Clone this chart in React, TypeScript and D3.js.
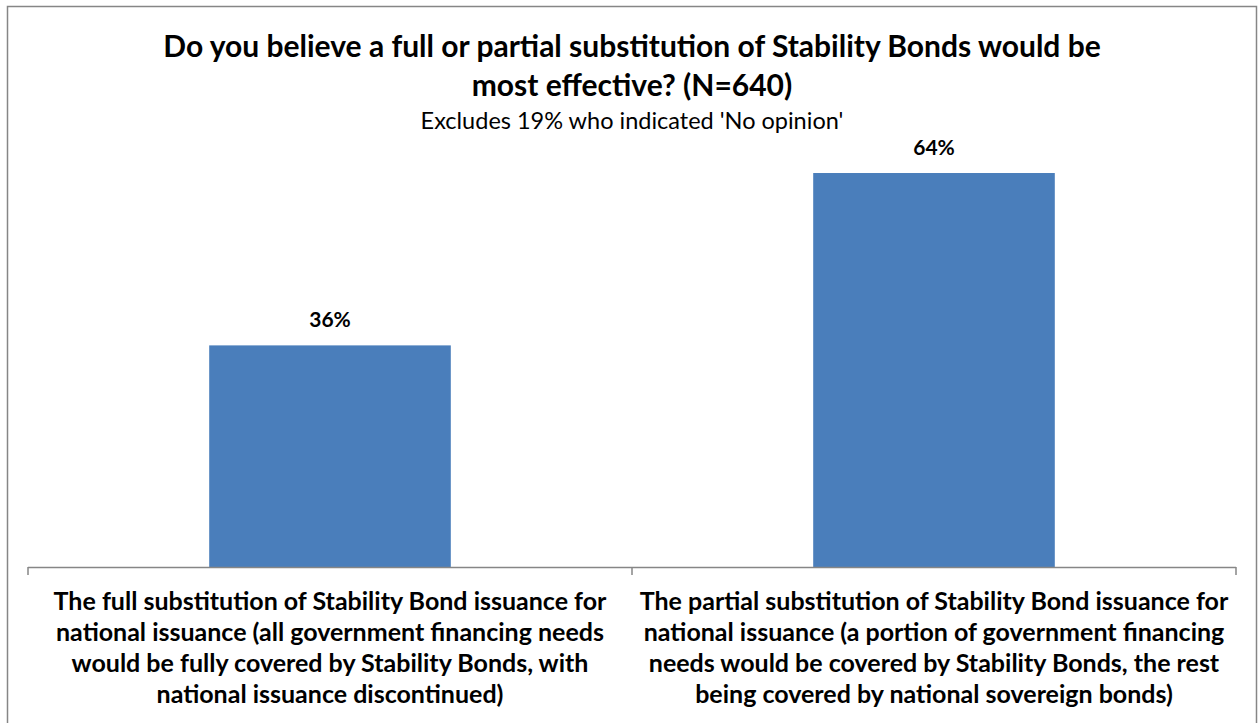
import React from "react";
import * as d3 from "d3";

const categories = ["full", "partial"];
const values = [36, 64];
const valueLabels = ["36%", "64%"];
const categoryLabels = [
  [
    "The full substitution of Stability Bond issuance for",
    "national issuance (all government financing needs",
    "would be fully covered by Stability Bonds, with",
    "national issuance discontinued)",
  ],
  [
    "The partial substitution of Stability Bond issuance for",
    "national issuance (a portion of government financing",
    "needs would be covered by Stability Bonds, the rest",
    "being covered by national sovereign bonds)",
  ],
];
const titleLines = [
  "Do you believe a full or partial substitution of Stability Bonds would be",
  "most effective? (N=640)",
];
const subtitle = "Excludes 19% who indicated 'No opinion'";

const W = 1259;
const H = 723;
const plotLeft = 28;
const plotRight = 1236;
const baseY = 567;
const pxPerPct = 6.156;
const font = "Lato, 'Open Sans', sans-serif";

export default function App() {
  const x = d3
    .scaleBand<string>()
    .domain(categories)
    .range([plotLeft, plotRight])
    .paddingInner(0.6)
    .paddingOuter(0.3);
  const y = d3
    .scaleLinear()
    .domain([0, 70])
    .range([baseY, baseY - 70 * pxPerPct]);
  const step = x.step();
  const tickXs = [plotLeft, plotLeft + step, plotLeft + 2 * step];

  return (
    <svg
      width={W}
      height={H}
      style={{ position: "absolute", left: 0, top: 0, fontFamily: font }}
    >
      <rect x={0} y={0} width={W} height={H} fill="#fff" />
      <path d={`M7.5,${H}V6.5H1256.5V${H}`} fill="none" stroke="#868686" strokeWidth={1.5} />
      {titleLines.map((t, i) => (
        <text
          key={i}
          x={632}
          y={57 + i * 39}
          textAnchor="middle"
          fontSize={30}
          fontWeight="bold"
          fill="#000"
        >
          {t}
        </text>
      ))}
      <text x={632} y={129} textAnchor="middle" fontSize={23.5} fill="#000">
        {subtitle}
      </text>
      {categories.map((c, i) => (
        <g key={c}>
          <rect
            x={x(c)}
            y={y(values[i])}
            width={x.bandwidth()}
            height={baseY - y(values[i])}
            fill="#4a7ebb"
          />
          <text
            x={(x(c) as number) + x.bandwidth() / 2}
            y={y(values[i]) - 18}
            textAnchor="middle"
            fontSize={21}
            fontWeight="bold"
            fill="#000"
          >
            {valueLabels[i]}
          </text>
          {categoryLabels[i].map((l, j) => (
            <text
              key={j}
              x={(x(c) as number) + x.bandwidth() / 2}
              y={610 + j * 31}
              textAnchor="middle"
              fontSize={25}
              fontWeight="bold"
              fill="#000"
            >
              {l}
            </text>
          ))}
        </g>
      ))}
      <line x1={plotLeft} x2={plotRight} y1={baseY + 0.5} y2={baseY + 0.5} stroke="#868686" strokeWidth={1.5} />
      {tickXs.map((tx, i) => (
        <line key={i} x1={tx} x2={tx} y1={baseY} y2={baseY + 8} stroke="#868686" strokeWidth={1.5} />
      ))}
    </svg>
  );
}
